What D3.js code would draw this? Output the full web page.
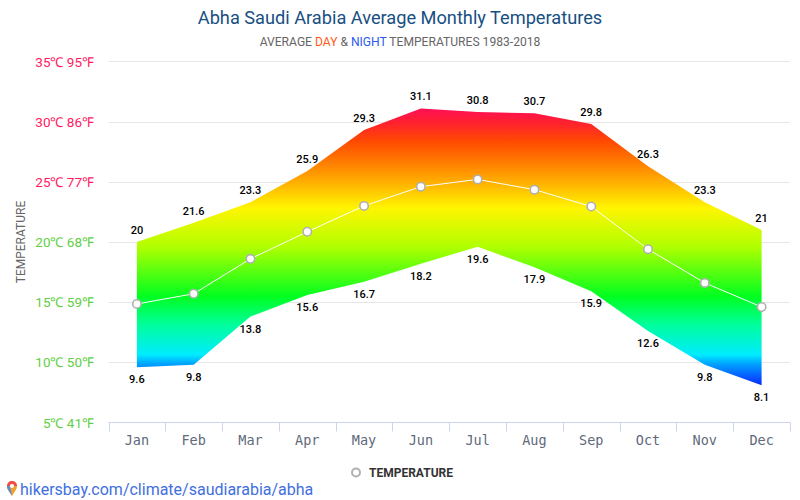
<!DOCTYPE html>
<html><head><meta charset="utf-8">
<script src="https://cdn.jsdelivr.net/npm/d3@7"></script>
<style>html,body{margin:0;padding:0;background:#fff;overflow:hidden}svg{display:block}text{font-family:Roboto,sans-serif}</style>
</head><body><svg id="c" width="800" height="500"></svg>
<script>
const months=["Jan","Feb","Mar","Apr","May","Jun","Jul","Aug","Sep","Oct","Nov","Dec"];
const dayValues=[20,21.6,23.3,25.9,29.3,31.1,30.8,30.7,29.8,26.3,23.3,21];
const nightValues=[9.6,9.8,13.8,15.6,16.7,18.2,19.6,17.9,15.9,12.6,9.8,8.1];
const meanValues=[14.85,15.7,18.6,20.85,23,24.6,25.2,24.35,22.95,19.4,16.6,14.6];
const yTicks=[5,10,15,20,25,30,35];
const yLabels=["5℃ 41℉","10℃ 50℉","15℃ 59℉","20℃ 68℉","25℃ 77℉","30℃ 86℉","35℃ 95℉"];
const gradStops=[[0,"#ff0f55"],[0.05,"#ff2030"],[0.12,"#ff4a00"],[0.26,"#ffaa00"],[0.36,"#fff500"],[0.5,"#b0ff00"],[0.68,"#00ff20"],[0.78,"#00ff9a"],[0.89,"#00ecff"],[0.92,"#00a8ff"],[1,"#0a28ff"]];

const svg=d3.select("#c");
const x=d3.scaleBand().domain(months).range([108.5,790]);
const y=d3.scaleLinear().domain([5,35]).range([422.5,61.5]);
const cx=m=>x(m)+x.bandwidth()/2;

const defs=svg.append("defs");
const g=defs.append("linearGradient").attr("id","temp").attr("x1",0).attr("x2",0).attr("y1",0).attr("y2",1);
gradStops.forEach(s=>g.append("stop").attr("offset",s[0]).attr("stop-color",s[1]));

svg.append("g").selectAll("line").data(yTicks.slice(1)).join("line")
 .attr("x1",108.5).attr("x2",790).attr("y1",d=>Math.floor(y(d)+.4)+.5).attr("y2",d=>Math.floor(y(d)+.4)+.5)
 .attr("stroke","#e6e6e6");

svg.append("g").selectAll("text").data(yTicks).join("text")
 .attr("x",94).attr("y",d=>y(d)+5).attr("text-anchor","end").attr("font-size",13.5)
 .attr("fill",d=>d>=25?"#ff1a62":"#5fcf45").text((d,i)=>yLabels[i]);

const area=d3.area().x(d=>cx(d.m)).y0(d=>y(d.lo)).y1(d=>y(d.hi));
const rows=months.map((m,i)=>({m,hi:dayValues[i],lo:nightValues[i],v:meanValues[i]}));
svg.append("path").datum(rows).attr("d",area).attr("fill","url(#temp)");

svg.append("path").datum(rows).attr("d",d3.line().x(d=>cx(d.m)).y(d=>y(d.v)))
 .attr("fill","none").attr("stroke","#fff").attr("stroke-width",1);
svg.append("g").selectAll("circle").data(rows).join("circle")
 .attr("cx",d=>cx(d.m)).attr("cy",d=>y(d.v)).attr("r",4.2)
 .attr("fill","#fff").attr("stroke","#b0b0b0").attr("stroke-width",1.6);

const lab=svg.append("g").attr("font-size",11).attr("font-weight",500).attr("fill","#000").attr("text-anchor","middle");
rows.forEach(r=>{
 lab.append("text").attr("x",cx(r.m)).attr("y",y(r.hi)-8).text(r.hi);
 lab.append("text").attr("x",cx(r.m)).attr("y",y(r.lo)+16).text(r.lo);
});

const ax=svg.append("g").attr("transform","translate(0,422.5)");
ax.append("line").attr("x1",108.5).attr("x2",790.5).attr("stroke","#ccd6eb");
ax.selectAll("line.t").data(months.concat(["end"])).join("line").attr("class","t")
 .attr("x1",(d,i)=>Math.round(108.5+i*x.step())+.5).attr("x2",(d,i)=>Math.round(108.5+i*x.step())+.5)
 .attr("y1",0).attr("y2",9).attr("stroke","#ccd6eb");
ax.selectAll("text").data(months).join("text").attr("x",d=>cx(d)).attr("y",22)
 .attr("text-anchor","middle").attr("font-size",13.5).attr("fill","#606a7a")
 .style("font-family","'DejaVu Sans Mono',monospace").text(d=>d);

svg.append("text").attr("transform","translate(25,242) rotate(-90)").attr("text-anchor","middle")
 .attr("font-size",12).attr("fill","#666").text("TEMPERATURE");

svg.append("text").attr("x",400).attr("y",24).attr("text-anchor","middle").attr("font-size",18.2).attr("fill","#174f82")
 .text("Abha Saudi Arabia Average Monthly Temperatures");
const sub=svg.append("text").attr("x",400).attr("y",46).attr("text-anchor","middle").attr("font-size",12.1).attr("fill","#666");
sub.append("tspan").text("AVERAGE ");
sub.append("tspan").attr("fill","#ff5a1a").text("DAY");
sub.append("tspan").text(" & ");
sub.append("tspan").attr("fill","#2a5aee").text("NIGHT");
sub.append("tspan").text(" TEMPERATURES 1983-2018");

svg.append("circle").attr("cx",356).attr("cy",472.5).attr("r",4).attr("fill","#fff").attr("stroke","#b0b0b0").attr("stroke-width",2);
svg.append("text").attr("x",369).attr("y",476.5).attr("font-size",12).attr("font-weight",700).attr("fill","#333").text("TEMPERATURE");

const pin=svg.append("g").attr("transform","translate(12,488)");
pin.append("path").attr("d","M0,8 C-3,3 -5,1 -5,-2 A5,5 0 1 1 5,-2 C5,1 3,3 0,8Z").attr("fill","#f0a030");
pin.append("path").attr("d","M-5,-2 A5,5 0 0 1 5,-2 L2,-2 A2,2 0 0 0 -2,-2Z").attr("fill","#ef4b4b");
pin.append("path").attr("d","M0,8 C-3,3 -5,1 -5,-2 L-2,-2 Q-1,3 0,8Z").attr("fill","#5a8fd0");
pin.append("circle").attr("cy",-2).attr("r",2).attr("fill","#fff");
svg.append("text").attr("x",20).attr("y",495).attr("font-size",16).attr("fill","#3f6fe0").text("hikersbay.com/climate/saudiarabia/abha");
</script></body></html>
